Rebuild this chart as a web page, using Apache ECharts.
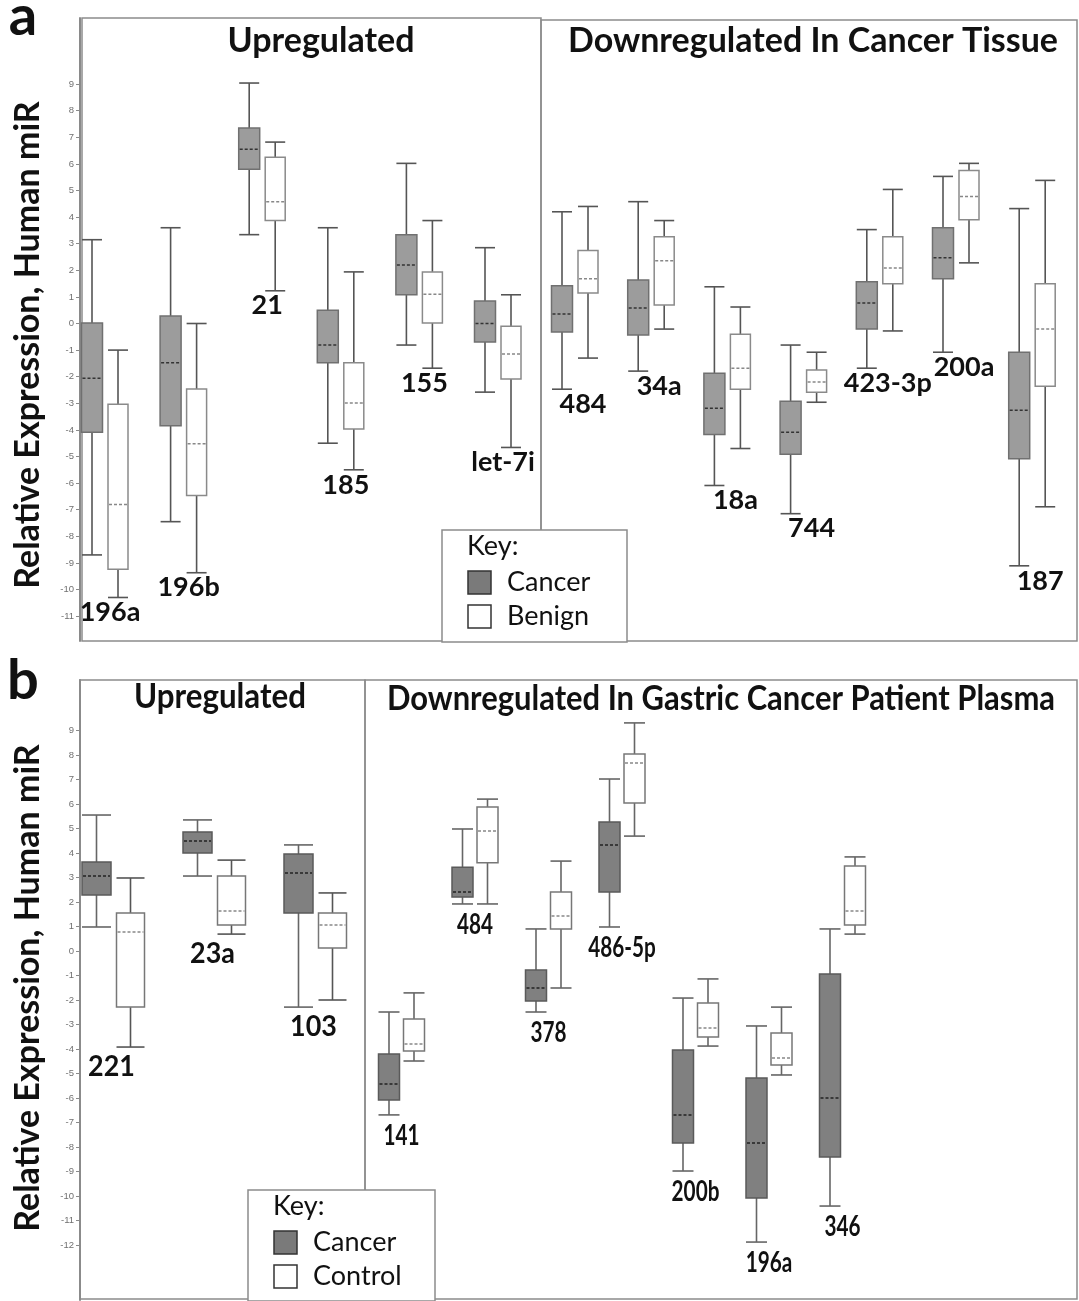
<!DOCTYPE html>
<html><head><meta charset="utf-8">
<script src="https://cdn.jsdelivr.net/npm/echarts@6/dist/echarts.min.js"></script>
<style>html,body{margin:0;padding:0;background:#fff}#c{width:1079px;height:1301px}</style>
</head><body><div id="c"></div>
<script>
// ---------- DATA ----------
// each box: [lowerWhisker, q1, median, q3, upperWhisker]
const catA_up = ['196a', '196b', '21', '185', '155', 'let-7i'];
const catA_down = ['484', '34a', '18a', '744', '423-3p', '200a', '187'];
const cancerA_up = [
  [-8.7, -4.09, -2.06, 0.02, 3.15],
  [-7.45, -3.84, -1.48, 0.28, 3.6],
  [3.34, 5.8, 6.55, 7.35, 9.04],
  [-4.5, -1.48, -0.81, 0.5, 3.6],
  [-0.81, 1.08, 2.2, 3.34, 6.02],
  [-2.58, -0.7, 0, 0.85, 2.85]
];
const benignA_up = [
  [-10.3, -9.24, -6.8, -3.04, -1.0],
  [-9.37, -6.47, -4.52, -2.46, 0.0],
  [1.23, 3.87, 4.58, 6.25, 6.82],
  [-5.5, -3.97, -2.99, -1.48, 1.94],
  [-1.68, 0.02, 1.1, 1.94, 3.87],
  [-4.66, -2.09, -1.15, -0.1, 1.08]
];
const cancerA_down = [
  [-2.47, -0.32, 0.36, 1.42, 4.2],
  [-1.79, -0.43, 0.58, 1.64, 4.58],
  [-6.09, -4.17, -3.19, -1.87, 1.38],
  [-7.15, -4.92, -4.09, -2.92, -0.81],
  [-1.68, -0.21, 0.77, 1.57, 3.53],
  [-1.08, 1.68, 2.47, 3.6, 5.53],
  [-9.11, -5.08, -3.26, -1.08, 4.32]
];
const benignA_down = [
  [-1.3, 1.15, 1.68, 2.74, 4.4],
  [-0.21, 0.7, 2.36, 3.26, 3.87],
  [-4.7, -2.47, -1.68, -0.4, 0.62],
  [-2.96, -2.58, -2.2, -1.75, -1.08],
  [-0.28, 1.49, 2.09, 3.26, 5.04],
  [2.28, 3.9, 4.77, 5.75, 6.02],
  [-6.89, -2.36, -0.21, 1.49, 5.38]
];

const catB_up = ['221', '23a', '103'];
const catB_down = ['141', '484', '378', '486-5p', '200b', '196a', '346'];
const cancerB_up = [
  [0.98, 2.29, 3.06, 3.63, 5.55],
  [3.06, 4.0, 4.49, 4.86, 5.35],
  [-2.29, 1.55, 3.18, 3.96, 4.33]
];
const controlB_up = [
  [-3.92, -2.29, 0.78, 1.55, 2.98],
  [0.69, 1.06, 1.63, 3.06, 3.71],
  [-2.0, 0.12, 1.06, 1.55, 2.37]
];
const cancerB_down = [
  [-6.69, -6.08, -5.43, -4.2, -2.49],
  [1.92, 2.2, 2.41, 3.42, 4.98],
  [-2.49, -2.04, -1.51, -0.78, 0.9],
  [0.98, 2.41, 4.33, 5.27, 7.02],
  [-8.98, -7.84, -6.69, -4.04, -1.92],
  [-11.88, -10.08, -7.84, -5.18, -3.06],
  [-10.41, -8.41, -6.0, -0.94, 0.9]
];
const controlB_down = [
  [-4.49, -4.08, -3.8, -2.78, -1.71],
  [1.92, 3.6, 4.9, 5.88, 6.2],
  [-1.51, 0.9, 1.43, 2.41, 3.67],
  [4.69, 6.04, 7.67, 8.04, 9.31],
  [-3.88, -3.51, -3.14, -2.12, -1.14],
  [-5.06, -4.65, -4.37, -3.35, -2.29],
  [0.69, 1.06, 1.63, 3.47, 3.84]
];

const ticksA = [-11, -10, -9, -8, -7, -6, -5, -4, -3, -2, -1, 0, 1, 2, 3, 4, 5, 6, 7, 8, 9];
const ticksB = [-12, -11, -10, -9, -8, -7, -6, -5, -4, -3, -2, -1, 0, 1, 2, 3, 4, 5, 6, 7, 8, 9];

// ---------- LAYOUT ----------
const FONT = 'Lato, "Open Sans", "DejaVu Sans", sans-serif';
// grids in px: [left, top, width, height, firstCenterPx, spacingPx]
const G = {
  a1: [80, 18, 461, 623, 105, 78.6],
  a2: [541, 18, 536, 623, 575, 76.2],
  b1: [80, 680, 285, 620, 113.5, 101],
  b2: [365, 680, 712, 620, 401.5, 73.5]
};
// y calibration: [zeroPx, pxPerUnit]
const YA = [323.5, 26.6], YB = [951, 24.5];

function yRange(g, cal) {
  return { max: (cal[0] - g[1]) / cal[1], min: (cal[0] - (g[1] + g[3])) / cal[1] };
}
function xRange(g) {
  return { min: (g[0] - g[4]) / g[5], max: (g[0] + g[2] - g[4]) / g[5] };
}

const keys = ['a1', 'a2', 'b1', 'b2'];
const grids = keys.map(k => ({ left: G[k][0], top: G[k][1], width: G[k][2], height: G[k][3] }));
const xAxes = keys.map((k, i) => Object.assign({ type: 'value', gridIndex: i, show: false }, xRange(G[k])));
const yAxes = keys.map((k, i) => {
  const cal = k[0] === 'a' ? YA : YB;
  const ticks = k[0] === 'a' ? ticksA : ticksB;
  const showAxis = k[1] === '1';
  return Object.assign({
    type: 'value', gridIndex: i, show: showAxis,
    splitLine: { show: false },
    axisLine: { show: true, onZero: false, lineStyle: { color: '#8a8a8a', width: 2 } },
    axisTick: { show: true, length: 4, customValues: ticks, lineStyle: { color: '#8a8a8a', width: 1 } },
    axisLabel: { customValues: ticks, fontSize: 9.5, color: '#707070', margin: 6, fontFamily: 'Arial, "Liberation Sans", sans-serif' }
  }, yRange(G[k], cal));
});

function boxRenderer(cfg) {
  return function (params, api) {
    const i = api.value(0);
    const lo = api.coord([i, api.value(1)]);
    const q1 = api.coord([i, api.value(2)]);
    const md = api.coord([i, api.value(3)]);
    const q3 = api.coord([i, api.value(4)]);
    const hi = api.coord([i, api.value(5)]);
    const cx = lo[0] + cfg.offset;
    const hw = cfg.boxW / 2, cw = cfg.capW / 2;
    const ws = { stroke: cfg.whisker, lineWidth: cfg.wlw };
    return {
      type: 'group', children: [
        { type: 'line', shape: { x1: cx, y1: hi[1], x2: cx, y2: q3[1] }, style: ws },
        { type: 'line', shape: { x1: cx, y1: q1[1], x2: cx, y2: lo[1] }, style: ws },
        { type: 'line', shape: { x1: cx - cw, y1: hi[1], x2: cx + cw, y2: hi[1] }, style: ws },
        { type: 'line', shape: { x1: cx - cw, y1: lo[1], x2: cx + cw, y2: lo[1] }, style: ws },
        { type: 'rect', shape: { x: cx - hw, y: q3[1], width: cfg.boxW, height: q1[1] - q3[1] },
          style: { fill: cfg.fill, stroke: cfg.stroke, lineWidth: cfg.blw } },
        { type: 'line', shape: { x1: cx - hw + 1, y1: md[1], x2: cx + hw - 1, y2: md[1] },
          style: { stroke: cfg.median, lineWidth: 1.5, lineDash: [3, 2] } }
      ]
    };
  };
}
function labelRenderer(cats, cfg) {
  return function (params, api) {
    const i = api.value(0);
    const p = api.coord([i, api.value(1)]);
    return {
      type: 'text', x: p[0] + cfg.dx, y: p[1] + cfg.dy, scaleX: cfg.sx,
      style: { text: cats[params.dataIndex], x: 0, y: 0, align: 'center', verticalAlign: 'middle',
        font: '700 ' + cfg.size + 'px ' + FONT, fill: '#111' }
    };
  };
}

const styleA = {
  cancer: { offset: -13, boxW: 21, capW: 20, fill: '#9c9c9c', stroke: '#707070', blw: 1.5, whisker: '#555', wlw: 1.6, median: '#333' },
  ctrl: { offset: 13, boxW: 20, capW: 20, fill: '#fff', stroke: '#8a8a8a', blw: 1.5, whisker: '#555', wlw: 1.6, median: '#888' }
};
const styleB1 = {
  cancer: { offset: -17, boxW: 29, capW: 29, fill: '#808080', stroke: '#5a5a5a', blw: 1.5, whisker: '#666', wlw: 1.6, median: '#222' },
  ctrl: { offset: 17, boxW: 28, capW: 28, fill: '#fff', stroke: '#777', blw: 1.5, whisker: '#555', wlw: 1.6, median: '#888' }
};
const styleB2 = {
  cancer: { offset: -12.5, boxW: 21, capW: 21, fill: '#808080', stroke: '#5a5a5a', blw: 1.5, whisker: '#666', wlw: 1.6, median: '#222' },
  ctrl: { offset: 12.5, boxW: 21, capW: 21, fill: '#fff', stroke: '#777', blw: 1.5, whisker: '#666', wlw: 1.6, median: '#888' }
};

const series = [];
function addPanel(gi, cats, cancer, ctrl, st, lab) {
  series.push({ type: 'custom', xAxisIndex: gi, yAxisIndex: gi, renderItem: boxRenderer(st.cancer),
    encode: { x: 0, y: [1, 2, 3, 4, 5] }, data: cancer.map((b, i) => [i].concat(b)), z: 3 });
  series.push({ type: 'custom', xAxisIndex: gi, yAxisIndex: gi, renderItem: boxRenderer(st.ctrl),
    encode: { x: 0, y: [1, 2, 3, 4, 5] }, data: ctrl.map((b, i) => [i].concat(b)), z: 3 });
  series.push({ type: 'custom', xAxisIndex: gi, yAxisIndex: gi, renderItem: labelRenderer(cats, lab),
    encode: { x: 0, y: 1 }, data: cats.map((c, i) => [i, Math.min(cancer[i][0], ctrl[i][0])]), z: 4 });
}
addPanel(0, catA_up, cancerA_up, benignA_up, styleA, { dx: 5, dy: 15, sx: 1, size: 27 });
addPanel(1, catA_down, cancerA_down, benignA_down, styleA, { dx: 8, dy: 15, sx: 1, size: 27 });
addPanel(2, catB_up, cancerB_up, controlB_up, styleB1, { dx: -2, dy: 20, sx: 0.96, size: 28 });
addPanel(3, catB_down, cancerB_down, controlB_down, styleB2, { dx: 0, dy: 21, sx: 0.74, size: 28 });

const frame = { fill: 'none', stroke: '#8c8c8c', lineWidth: 1.5 };
function txt(x, y, s, size, weight, opts, sx) {
  return { type: 'text', x: x, y: y, z: 20, scaleX: sx || 1,
    style: Object.assign({ text: s, font: weight + ' ' + size + 'px ' + FONT, fill: '#111', align: 'center', verticalAlign: 'middle' }, opts || {}) };
}
function keyBox(x, y, w, h, label2) {
  return [
    { type: 'rect', z: 15, shape: { x: x, y: y, width: w, height: h }, style: { fill: '#fff', stroke: '#8c8c8c', lineWidth: 1.5 } },
    txt(x + 25, y + 16, 'Key:', 27, 400, { align: 'left' }),
    { type: 'rect', z: 16, shape: { x: x + 26, y: y + 41, width: 23, height: 23 }, style: { fill: '#7a7a7a', stroke: '#333', lineWidth: 1.5 } },
    txt(x + 65, y + 52, 'Cancer', 27, 400, { align: 'left' }),
    { type: 'rect', z: 16, shape: { x: x + 26, y: y + 75, width: 23, height: 23 }, style: { fill: '#fff', stroke: '#333', lineWidth: 1.5 } },
    txt(x + 65, y + 86, label2, 27, 400, { align: 'left' })
  ];
}

const graphics = [
  { type: 'rect', z: 1, shape: { x: 82, y: 18, width: 459, height: 623 }, style: frame },
  { type: 'rect', z: 1, shape: { x: 541, y: 20, width: 536, height: 621 }, style: frame },
  { type: 'rect', z: 1, shape: { x: 80, y: 680, width: 285, height: 619 }, style: frame },
  { type: 'rect', z: 1, shape: { x: 365, y: 680, width: 712, height: 619 }, style: frame },
  txt(321, 41, 'Upregulated', 34, 700),
  txt(813, 41, 'Downregulated In Cancer Tissue', 34, 700),
  txt(220, 697, 'Upregulated', 34, 700, null, 0.92),
  txt(721, 699, 'Downregulated In Gastric Cancer Patient Plasma', 34, 700, null, 0.91),
  txt(23, 17, 'a', 56, 700),
  txt(23, 681, 'b', 56, 700),
  Object.assign(txt(28, 345, 'Relative Expression, Human miR', 34, 700), { rotation: Math.PI / 2 }),
  Object.assign(txt(28, 988, 'Relative Expression, Human miR', 34, 700), { rotation: Math.PI / 2 })
].concat(keyBox(442, 530, 185, 112, 'Benign'), keyBox(248, 1190, 187, 111, 'Control'));

const chart = echarts.init(document.getElementById('c'), null, { renderer: 'canvas' });
chart.setOption({
  animation: false,
  backgroundColor: '#fff',
  grid: grids,
  xAxis: xAxes,
  yAxis: yAxes,
  series: series,
  graphic: { elements: graphics }
});
</script>
</body></html>
